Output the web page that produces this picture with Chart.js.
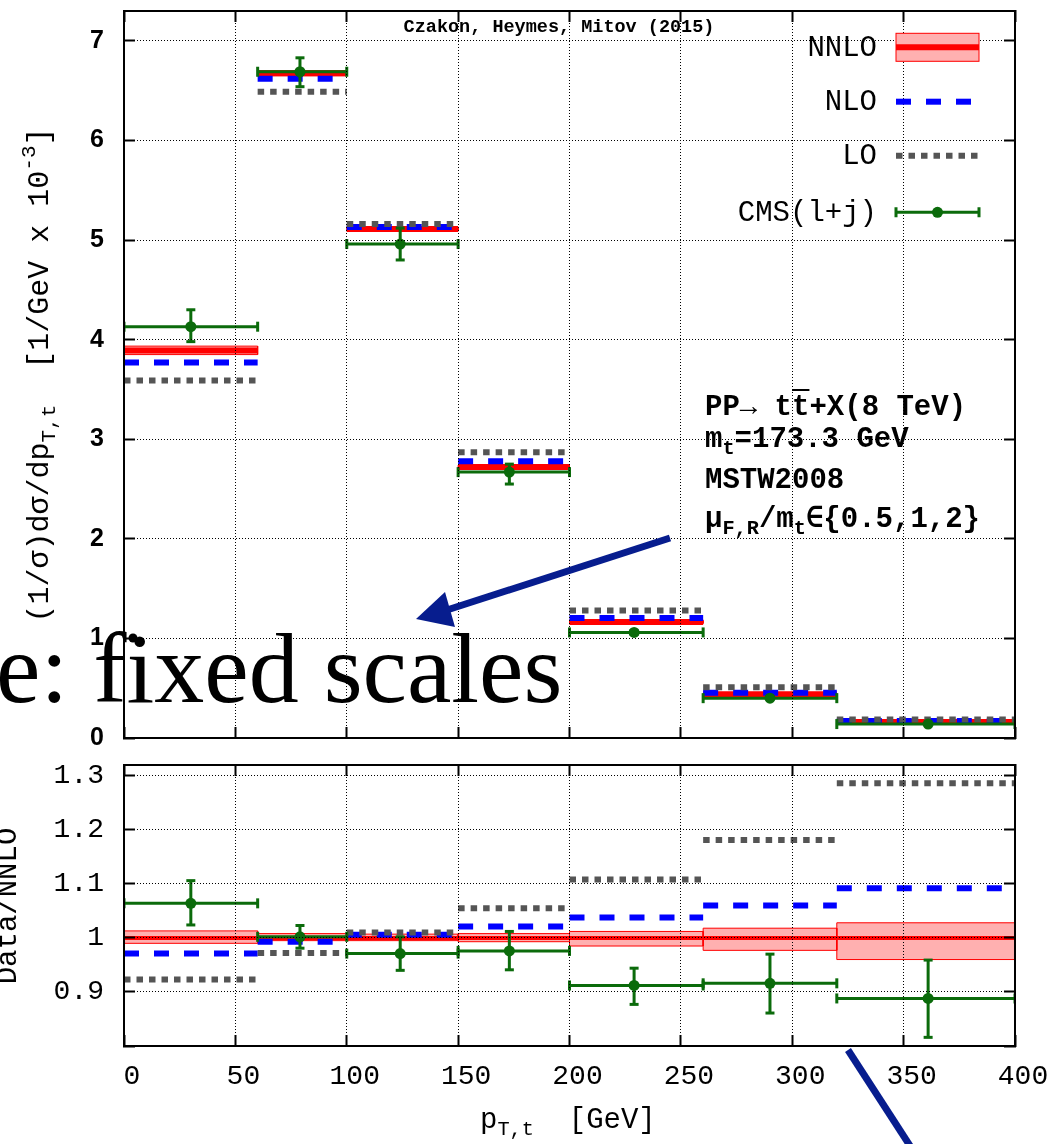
<!DOCTYPE html>
<html>
<head>
<meta charset="utf-8">
<script src="https://cdn.jsdelivr.net/npm/chart.js@4.4.1/dist/chart.umd.min.js"></script>
<style>
  html, body { margin: 0; padding: 0; background: #fff; }
  body { width: 1055px; height: 1144px; position: relative; overflow: hidden; }
  canvas { position: absolute; left: 0; }
  #top { top: 0; width: 1055px; height: 750px; }
  #bottom { top: 750px; width: 1055px; height: 394px; }
  .txt { position: absolute; white-space: nowrap; color: #000; line-height: 1; }
  .mono { font-family: 'Liberation Mono', monospace; }
  .bold { font-weight: bold; }
  sub { font-size: 70%; vertical-align: -0.35em; line-height: 0; }
  sup { font-size: 70%; vertical-align: 0.6em; line-height: 0; }
  .ov { text-decoration: overline; }
  svg { position: absolute; left: 0; top: 0; }
</style>
</head>
<body>
<canvas id="top" width="1055" height="750"></canvas>
<canvas id="bottom" width="1055" height="394"></canvas>

<svg width="1055" height="1144">
  <line x1="670" y1="538" x2="447" y2="610" stroke="#071d8e" stroke-width="7"/>
  <polygon points="416,619 445,592 455,627" fill="#071d8e"/>
  <line x1="848" y1="1050" x2="914" y2="1152" stroke="#071d8e" stroke-width="7"/>
  <circle cx="133" cy="638" r="4.5" fill="#000"/>
</svg>

<div class="txt mono" style="left:40px; top:375px; font-size:30px; transform: translate(-50%, -50%) rotate(-90deg);">(1/σ)dσ/dp<sub>T,t</sub>&nbsp;&nbsp;[1/GeV x 10<sup>-3</sup>]</div>
<div class="txt mono" style="left:8px; top:906px; font-size:29px; transform: translate(-50%, -50%) rotate(-90deg);">Data/NNLO</div>
<div class="txt mono" style="left:480px; top:1106px; font-size:29px;">p<sub>T,t</sub>&nbsp;&nbsp;[GeV]</div>

<div class="txt mono bold" style="left:705px; top:393px; font-size:29px;">PP→ t<span class="ov">t</span>+X(8 TeV)</div>
<div class="txt mono bold" style="left:705px; top:425px; font-size:29px;">m<sub>t</sub>=173.3 GeV</div>
<div class="txt mono bold" style="left:705px; top:466px; font-size:29px;">MSTW2008</div>
<div class="txt mono bold" style="left:705px; top:505px; font-size:29px;">μ<sub>F,R</sub>/m<sub>t</sub>∈{0.5,1,2}</div>

<div class="txt" style="left:-4px; top:619px; font-family:'Liberation Serif', serif; font-size:100px;">e: fixed scales</div>

<script>
// bins in p_T,t [GeV]
const binEdges = [0, 60, 100, 150, 200, 260, 320, 400];
const xTicksStep = 50;

// top panel: (1/sigma) dsigma/dpT  [1/GeV x 10^-3]
const nnloTop   = [3.89, 6.675, 5.11, 2.72, 1.165, 0.44, 0.16];
const nnloTopHi = [3.935, 6.70, 5.13, 2.74, 1.18, 0.45, 0.17];
const nnloTopLo = [3.85, 6.65, 5.09, 2.70, 1.15, 0.43, 0.15];
const nloTop    = [3.77, 6.62, 5.13, 2.78, 1.205, 0.455, 0.17];
const loTop     = [3.59, 6.49, 5.16, 2.87, 1.28, 0.51, 0.185];
const cmsX      = [30, 79, 124, 173, 229, 290, 361];
const cmsTop    = [4.13, 6.69, 4.96, 2.67, 1.06, 0.40, 0.14];
const cmsTopHi  = [4.30, 6.83, 5.12, 2.75, 1.08, 0.41, 0.145];
const cmsTopLo  = [3.98, 6.54, 4.80, 2.55, 1.04, 0.39, 0.135];

// bottom panel: ratio to NNLO
const nnloRatio   = [1, 1, 1, 1, 1, 1, 1];
const nnloRatioHi = [1.013, 1.008, 1.007, 1.008, 1.012, 1.018, 1.028];
const nnloRatioLo = [0.990, 0.995, 0.995, 0.993, 0.985, 0.977, 0.960];
const nloRatio    = [0.971, 0.993, 1.006, 1.021, 1.038, 1.060, 1.092];
const loRatio     = [0.923, 0.972, 1.010, 1.055, 1.108, 1.181, 1.286];
const cmsRatio    = [1.064, 1.002, 0.971, 0.976, 0.912, 0.916, 0.888];
const cmsRatioHi  = [1.106, 1.023, 1.002, 1.012, 0.944, 0.970, 0.959];
const cmsRatioLo  = [1.024, 0.981, 0.940, 0.941, 0.877, 0.861, 0.816];

const legendLabels = ['NNLO', 'NLO', 'LO', 'CMS(l+j)'];
const titleText = 'Czakon, Heymes, Mitov (2015)';

const GREEN = '#0b6b0b';
const BLUE = '#0000ff';
const GREY = '#555555';
const RED = '#ff0000';
const PINK = '#ffb0b0';

// one horizontal segment per bin, gaps in between
const steps = vals => vals.flatMap((v, i) => [
  {x: binEdges[i], y: v}, {x: binEdges[i + 1], y: v}, {x: binEdges[i + 1], y: null}
]);
// closed rectangle per bin for the scale band
const boxes = (hi, lo) => hi.flatMap((h, i) => {
  const a = binEdges[i], b = binEdges[i + 1];
  return [{x: a, y: h}, {x: b, y: h}, {x: b, y: lo[i]}, {x: a, y: lo[i]}, {x: a, y: h}, {x: b, y: null}];
});
const vbars = (hi, lo) => cmsX.flatMap((x, i) => [{x, y: lo[i]}, {x, y: hi[i]}, {x, y: null}]);
const pts = vals => cmsX.map((x, i) => ({x, y: vals[i]}));

const datasetsFor = p => [
  { data: pts(p.cms), showLine: false, pointStyle: 'circle', pointRadius: 5.5,
    pointBackgroundColor: GREEN, pointBorderColor: GREEN, pointBorderWidth: 0 },
  { data: vbars(p.cmsHi, p.cmsLo), borderColor: GREEN, borderWidth: 3,
    pointStyle: 'line', pointRadius: 4.5, pointBorderWidth: 3, pointBorderColor: GREEN },
  { data: steps(p.cms), borderColor: GREEN, borderWidth: 3,
    pointStyle: 'line', pointRotation: 90, pointRadius: 5, pointBorderWidth: 3, pointBorderColor: GREEN },
  { data: steps(p.lo), borderColor: GREY, borderWidth: 6, borderDash: [6.5, 6], pointRadius: 0 },
  { data: steps(p.nlo), borderColor: BLUE, borderWidth: 6, borderDash: [15, 15], pointRadius: 0 },
  { data: steps(p.nnlo), borderColor: RED, borderWidth: p.nnloWidth, pointRadius: 0 },
  { data: boxes(p.nnloHi, p.nnloLo), borderColor: RED, borderWidth: 1,
    backgroundColor: PINK, fill: 'shape', pointRadius: 0 }
];

const gridOpts = (onArea) => ({
  drawOnChartArea: onArea, color: '#000', lineWidth: 1,
  tickLength: -11, tickWidth: 2, tickColor: '#000', tickBorderDash: [40, 0], z: 1
});
const borderOpts = { color: '#000', width: 2, dash: [1, 2], z: 1 };

// fixed axis sizes, no extra label padding pushed into the layout
const fixSize = (prop, size) => s => {
  s[prop] = size;
  s.paddingTop = s.paddingBottom = s.paddingLeft = s.paddingRight = 0;
};

const xAxis = (pos, showTicks, height) => ({
  type: 'linear', position: pos, min: binEdges[0], max: binEdges[binEdges.length - 1],
  ticks: {
    display: showTicks, stepSize: xTicksStep, autoSkip: false, maxRotation: 0,
    font: {family: 'Liberation Mono', size: 28}, color: '#000', padding: 25, labelOffset: 8
  },
  grid: gridOpts(pos === 'bottom'), border: borderOpts,
  afterFit: fixSize('height', height)
});
const yAxis = (pos, min, max, step, font, cb) => ({
  type: 'linear', position: pos, min, max,
  ticks: {
    display: pos === 'left', stepSize: step, includeBounds: false,
    font, color: '#000', padding: 31, callback: cb
  },
  grid: gridOpts(pos === 'left'), border: borderOpts,
  afterFit: fixSize('width', pos === 'left' ? 124 : 0)
});

const legendPlugin = {
  id: 'legendBox',
  afterDraw(chart) {
    const {ctx, chartArea: a} = chart;
    const tx = a.right - 138, x0 = a.right - 119, x1 = a.right - 36;
    const rows = [36.3, 90.7, 144.7, 201.3].map(d => a.top + d);
    ctx.save();
    ctx.fillStyle = '#000';
    ctx.font = 'bold 18.5px "Liberation Mono"';
    ctx.textAlign = 'center';
    ctx.textBaseline = 'middle';
    ctx.fillText(titleText, 559, a.top + 16);

    ctx.font = '29px "Liberation Mono"';
    ctx.textAlign = 'right';
    legendLabels.forEach((t, i) => ctx.fillText(t, tx, rows[i] + 1));

    // NNLO: band + line
    ctx.fillStyle = PINK;
    ctx.fillRect(x0, rows[0] - 14, x1 - x0, 28);
    ctx.strokeStyle = RED;
    ctx.lineWidth = 1;
    ctx.strokeRect(x0, rows[0] - 14, x1 - x0, 28);
    ctx.lineWidth = 6;
    ctx.beginPath(); ctx.moveTo(x0, rows[0]); ctx.lineTo(x1, rows[0]); ctx.stroke();
    // NLO
    ctx.strokeStyle = BLUE;
    ctx.setLineDash([15, 15]);
    ctx.beginPath(); ctx.moveTo(x0, rows[1]); ctx.lineTo(x1, rows[1]); ctx.stroke();
    // LO
    ctx.strokeStyle = GREY;
    ctx.setLineDash([6.5, 6]);
    ctx.beginPath(); ctx.moveTo(x0, rows[2]); ctx.lineTo(x1, rows[2]); ctx.stroke();
    // CMS
    ctx.setLineDash([]);
    ctx.strokeStyle = GREEN;
    ctx.fillStyle = GREEN;
    ctx.lineWidth = 3;
    ctx.beginPath();
    ctx.moveTo(x0, rows[3]); ctx.lineTo(x1, rows[3]);
    ctx.moveTo(x0, rows[3] - 5); ctx.lineTo(x0, rows[3] + 5);
    ctx.moveTo(x1, rows[3] - 5); ctx.lineTo(x1, rows[3] + 5);
    ctx.stroke();
    ctx.beginPath(); ctx.arc((x0 + x1) / 2, rows[3], 5.5, 0, Math.PI * 2); ctx.fill();
    ctx.restore();
  }
};

const common = {
  type: 'line',
  options: {
    responsive: false, animation: false, events: [], devicePixelRatio: 1,
    plugins: { legend: {display: false}, tooltip: {enabled: false} }
  }
};

new Chart(document.getElementById('top'), {
  ...common,
  data: {
    datasets: datasetsFor({
      cms: cmsTop, cmsHi: cmsTopHi, cmsLo: cmsTopLo, lo: loTop, nlo: nloTop,
      nnlo: nnloTop, nnloHi: nnloTopHi, nnloLo: nnloTopLo, nnloWidth: 6
    })
  },
  options: {
    ...common.options,
    layout: { padding: {top: 11, right: 40, bottom: 0, left: 0} },
    scales: {
      x: xAxis('bottom', false, 12),
      x2: xAxis('top', false, 0),
      y: yAxis('left', 0, 7.3, 1, {family: 'Liberation Sans', size: 25, weight: 'bold'}),
      y2: yAxis('right', 0, 7.3, 1)
    }
  },
  plugins: [legendPlugin]
});

new Chart(document.getElementById('bottom'), {
  ...common,
  data: {
    datasets: datasetsFor({
      cms: cmsRatio, cmsHi: cmsRatioHi, cmsLo: cmsRatioLo, lo: loRatio, nlo: nloRatio,
      nnlo: nnloRatio, nnloHi: nnloRatioHi, nnloLo: nnloRatioLo, nnloWidth: 4
    })
  },
  options: {
    ...common.options,
    layout: { padding: {top: 15, right: 40, bottom: 0, left: 0} },
    scales: {
      x: xAxis('bottom', true, 98),
      x2: xAxis('top', false, 0),
      y: yAxis('left', 0.8, 1.32, 0.1, {family: 'Liberation Mono', size: 28},
        v => v < 0.85 ? '' : String(Number(v.toFixed(1)))),
      y2: yAxis('right', 0.8, 1.32, 0.1)
    }
  }
});
</script>
</body>
</html>
